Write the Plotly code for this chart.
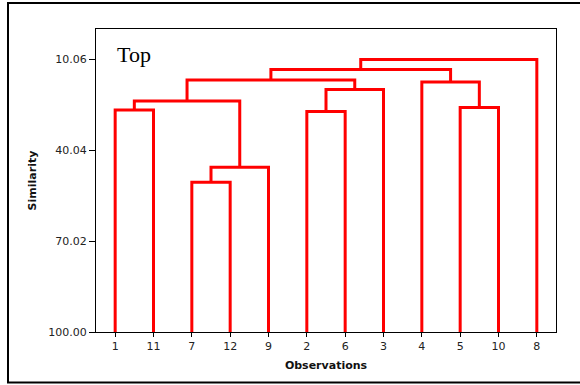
import plotly.graph_objects as go

# Leaf order along the x axis (observation numbers)
leaf_labels = ["1", "11", "7", "12", "9", "2", "6", "3", "4", "5", "10", "8"]

# Agglomeration steps: node ids 0..11 are the leaves in the order above,
# each step creates a new node id 12, 13, ...
merge_left = [0, 2, 13, 12, 5, 16, 15, 9, 8, 18, 21]
merge_right = [1, 3, 4, 14, 6, 7, 17, 10, 19, 20, 11]
merge_similarity = [26.75, 50.58, 45.64, 23.79, 27.19, 19.94, 16.87, 25.87, 17.53, 13.35, 10.06]

y_tick_values = [10.06, 40.04, 70.02, 100.00]
y_tick_labels = ["10.06", "40.04", "70.02", "100.00"]

# Node positions: leaves sit at 1..n on the similarity=100 baseline
node_x = [i + 1 for i in range(len(leaf_labels))]
node_y = [100.0] * len(leaf_labels)

xs, ys = [], []
for a, b, s in zip(merge_left, merge_right, merge_similarity):
    xa, ya = node_x[a], node_y[a]
    xb, yb = node_x[b], node_y[b]
    xs += [xa, xa, xb, xb, None]
    ys += [ya, s, s, yb, None]
    node_x.append((xa + xb) / 2)
    node_y.append(s)

fig = go.Figure()
fig.add_trace(go.Scatter(
    x=xs, y=ys, mode="lines",
    line=dict(color="#ff0000", width=3),
    hoverinfo="skip", showlegend=False,
))

tick_font = dict(family="DejaVu Sans", size=11, color="#222222")
title_font = dict(family="DejaVu Sans", size=11, color="#111111", weight="bold")

fig.update_xaxes(
    range=[0.5, len(leaf_labels) + 0.5],
    tickmode="array",
    tickvals=list(range(1, len(leaf_labels) + 1)),
    ticktext=leaf_labels,
    ticks="outside", ticklen=4, tickcolor="black", tickwidth=1,
    showline=True, linecolor="black", linewidth=1, mirror=True,
    showgrid=False, zeroline=False,
    tickfont=tick_font,
    title=dict(text="Observations", font=title_font, standoff=9),
)
fig.update_yaxes(
    range=[100, 0],
    tickmode="array",
    tickvals=y_tick_values,
    ticktext=y_tick_labels,
    ticks="outside", ticklen=6, tickcolor="black", tickwidth=1,
    showline=True, linecolor="black", linewidth=1, mirror=True,
    showgrid=False, zeroline=False,
    tickfont=tick_font,
    title=dict(text="Similarity", font=title_font, standoff=9),
)

fig.add_annotation(
    text="Top", xref="paper", yref="paper", x=0.041, y=0.915,
    xanchor="left", yanchor="middle", showarrow=False,
    font=dict(family="Liberation Serif", size=22, color="black"),
)

# Outer border around the whole graphic
fig.add_shape(
    type="rect", xref="paper", yref="paper",
    x0=(8 - 96) / 460, x1=(584 - 96) / 460,
    y0=(332 - 382.5) / 303, y1=(332 - 3) / 303,
    line=dict(color="black", width=2), fillcolor="rgba(0,0,0,0)",
    layer="above",
)

fig.update_layout(
    width=580, height=385,
    margin=dict(l=96, r=24, t=29, b=53),
    paper_bgcolor="white", plot_bgcolor="white",
)

fig.write_html("out.html")
